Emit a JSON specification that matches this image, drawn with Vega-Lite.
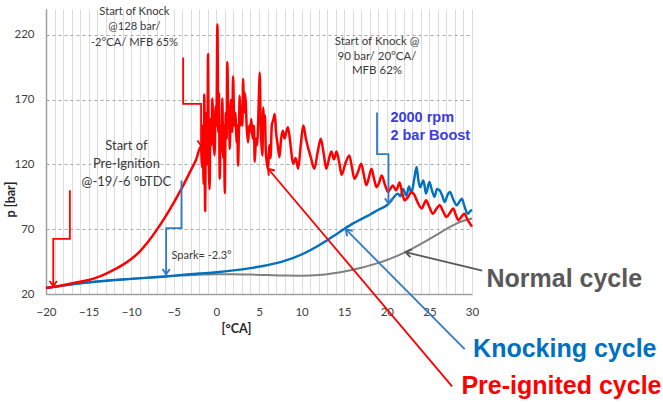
{
  "$schema": "https://vega.github.io/schema/vega-lite/v6.json",
  "width": 426,
  "height": 285,
  "autosize": {"type": "none"},
  "padding": {"left": 46, "top": 9, "right": 191, "bottom": 108},
  "background": "white",
  "config": {"view": {"stroke": null}, "font": "Lato"},
  "datasets": {
    "cycles": [
      {"cycle": "Normal", "ca": -20, "p": 24.6}, {"cycle": "Normal", "ca": -18, "p": 26.5}, {"cycle": "Normal", "ca": -16, "p": 28.2},
      {"cycle": "Normal", "ca": -14, "p": 29.6}, {"cycle": "Normal", "ca": -12, "p": 30.8}, {"cycle": "Normal", "ca": -10, "p": 31.7},
      {"cycle": "Normal", "ca": -8, "p": 32.6}, {"cycle": "Normal", "ca": -6, "p": 33.5}, {"cycle": "Normal", "ca": -4, "p": 34.3},
      {"cycle": "Normal", "ca": -2, "p": 34.9}, {"cycle": "Normal", "ca": 0, "p": 35.3}, {"cycle": "Normal", "ca": 2, "p": 35.3},
      {"cycle": "Normal", "ca": 4, "p": 35}, {"cycle": "Normal", "ca": 6, "p": 34.6}, {"cycle": "Normal", "ca": 8, "p": 34.2},
      {"cycle": "Normal", "ca": 10, "p": 34.1}, {"cycle": "Normal", "ca": 12, "p": 34.6}, {"cycle": "Normal", "ca": 13, "p": 35.3},
      {"cycle": "Normal", "ca": 14, "p": 36.2}, {"cycle": "Normal", "ca": 15, "p": 37.3}, {"cycle": "Normal", "ca": 16, "p": 38.7},
      {"cycle": "Normal", "ca": 17, "p": 40.3}, {"cycle": "Normal", "ca": 18, "p": 42.1}, {"cycle": "Normal", "ca": 19, "p": 44},
      {"cycle": "Normal", "ca": 20, "p": 46.2}, {"cycle": "Normal", "ca": 21, "p": 48.8}, {"cycle": "Normal", "ca": 22, "p": 51.8},
      {"cycle": "Normal", "ca": 23, "p": 55}, {"cycle": "Normal", "ca": 24, "p": 58.6}, {"cycle": "Normal", "ca": 25, "p": 62.4},
      {"cycle": "Normal", "ca": 26, "p": 66.3}, {"cycle": "Normal", "ca": 27, "p": 70.2}, {"cycle": "Normal", "ca": 28, "p": 73.8},
      {"cycle": "Normal", "ca": 29, "p": 76.5}, {"cycle": "Normal", "ca": 30, "p": 78.3},

      {"cycle": "Knocking", "ca": -20, "p": 24.6}, {"cycle": "Knocking", "ca": -18, "p": 26.5}, {"cycle": "Knocking", "ca": -16, "p": 28.2},
      {"cycle": "Knocking", "ca": -14, "p": 29.6}, {"cycle": "Knocking", "ca": -12, "p": 30.8}, {"cycle": "Knocking", "ca": -10, "p": 31.7},
      {"cycle": "Knocking", "ca": -8, "p": 32.6}, {"cycle": "Knocking", "ca": -6, "p": 33.5}, {"cycle": "Knocking", "ca": -4, "p": 34.8},
      {"cycle": "Knocking", "ca": -2, "p": 35.8}, {"cycle": "Knocking", "ca": 0, "p": 36.8}, {"cycle": "Knocking", "ca": 2, "p": 38.2},
      {"cycle": "Knocking", "ca": 4, "p": 40}, {"cycle": "Knocking", "ca": 6, "p": 42.3}, {"cycle": "Knocking", "ca": 8, "p": 45.5},
      {"cycle": "Knocking", "ca": 10, "p": 50.5}, {"cycle": "Knocking", "ca": 11, "p": 53.8}, {"cycle": "Knocking", "ca": 12, "p": 57.5},
      {"cycle": "Knocking", "ca": 13, "p": 61.5}, {"cycle": "Knocking", "ca": 14, "p": 65.8}, {"cycle": "Knocking", "ca": 15, "p": 70.2},
      {"cycle": "Knocking", "ca": 16, "p": 74.3}, {"cycle": "Knocking", "ca": 17, "p": 77.8}, {"cycle": "Knocking", "ca": 18, "p": 81.2},
      {"cycle": "Knocking", "ca": 19, "p": 85}, {"cycle": "Knocking", "ca": 20, "p": 88.5}, {"cycle": "Knocking", "ca": 20.4, "p": 91},
      {"cycle": "Knocking", "ca": 20.8, "p": 94.5}, {"cycle": "Knocking", "ca": 21.3, "p": 97.5}, {"cycle": "Knocking", "ca": 21.6, "p": 95.5},
      {"cycle": "Knocking", "ca": 21.9, "p": 101}, {"cycle": "Knocking", "ca": 22.3, "p": 96}, {"cycle": "Knocking", "ca": 22.6, "p": 103},
      {"cycle": "Knocking", "ca": 22.9, "p": 98}, {"cycle": "Knocking", "ca": 23.2, "p": 108}, {"cycle": "Knocking", "ca": 23.5, "p": 118},
      {"cycle": "Knocking", "ca": 23.7, "p": 108}, {"cycle": "Knocking", "ca": 23.9, "p": 102.5}, {"cycle": "Knocking", "ca": 24.3, "p": 107.7},
      {"cycle": "Knocking", "ca": 24.6, "p": 97.5}, {"cycle": "Knocking", "ca": 25.0, "p": 106.4}, {"cycle": "Knocking", "ca": 25.3, "p": 100},
      {"cycle": "Knocking", "ca": 25.6, "p": 95}, {"cycle": "Knocking", "ca": 25.9, "p": 101}, {"cycle": "Knocking", "ca": 26.2, "p": 100},
      {"cycle": "Knocking", "ca": 26.5, "p": 96}, {"cycle": "Knocking", "ca": 26.8, "p": 91}, {"cycle": "Knocking", "ca": 27.1, "p": 96},
      {"cycle": "Knocking", "ca": 27.4, "p": 98.7}, {"cycle": "Knocking", "ca": 27.8, "p": 93}, {"cycle": "Knocking", "ca": 28.2, "p": 88.5},
      {"cycle": "Knocking", "ca": 28.5, "p": 91}, {"cycle": "Knocking", "ca": 28.8, "p": 93.6}, {"cycle": "Knocking", "ca": 29.1, "p": 88},
      {"cycle": "Knocking", "ca": 29.5, "p": 82}, {"cycle": "Knocking", "ca": 29.8, "p": 84}, {"cycle": "Knocking", "ca": 30, "p": 85},

      {"cycle": "Pre-ignited", "ca": -20, "p": 24.6}, {"cycle": "Pre-ignited", "ca": -19, "p": 25.6}, {"cycle": "Pre-ignited", "ca": -18, "p": 26.8},
      {"cycle": "Pre-ignited", "ca": -17, "p": 28.2}, {"cycle": "Pre-ignited", "ca": -16, "p": 29.5}, {"cycle": "Pre-ignited", "ca": -15, "p": 30.8},
      {"cycle": "Pre-ignited", "ca": -14, "p": 32.8}, {"cycle": "Pre-ignited", "ca": -13, "p": 35.5}, {"cycle": "Pre-ignited", "ca": -12, "p": 38.8},
      {"cycle": "Pre-ignited", "ca": -11, "p": 42.5}, {"cycle": "Pre-ignited", "ca": -10, "p": 47}, {"cycle": "Pre-ignited", "ca": -9, "p": 52.8},
      {"cycle": "Pre-ignited", "ca": -8, "p": 60.5}, {"cycle": "Pre-ignited", "ca": -7, "p": 69.5}, {"cycle": "Pre-ignited", "ca": -6, "p": 79.5},
      {"cycle": "Pre-ignited", "ca": -5, "p": 90.5}, {"cycle": "Pre-ignited", "ca": -4, "p": 102.5}, {"cycle": "Pre-ignited", "ca": -3, "p": 115.5},
      {"cycle": "Pre-ignited", "ca": -2.4, "p": 123.5}, {"cycle": "Pre-ignited", "ca": -1.8, "p": 134}, {"cycle": "Pre-ignited", "ca": -1.7, "p": 118},
      {"cycle": "Pre-ignited", "ca": -1.6, "p": 150}, {"cycle": "Pre-ignited", "ca": -1.5, "p": 105}, {"cycle": "Pre-ignited", "ca": -1.42, "p": 174},
      {"cycle": "Pre-ignited", "ca": -1.32, "p": 84}, {"cycle": "Pre-ignited", "ca": -1.25, "p": 140}, {"cycle": "Pre-ignited", "ca": -1.15, "p": 160},
      {"cycle": "Pre-ignited", "ca": -1.06, "p": 120}, {"cycle": "Pre-ignited", "ca": -0.98, "p": 205}, {"cycle": "Pre-ignited", "ca": -0.9, "p": 130},
      {"cycle": "Pre-ignited", "ca": -0.8, "p": 101}, {"cycle": "Pre-ignited", "ca": -0.7, "p": 155}, {"cycle": "Pre-ignited", "ca": -0.6, "p": 135},
      {"cycle": "Pre-ignited", "ca": -0.48, "p": 171}, {"cycle": "Pre-ignited", "ca": -0.36, "p": 140}, {"cycle": "Pre-ignited", "ca": -0.22, "p": 127},
      {"cycle": "Pre-ignited", "ca": -0.1, "p": 165}, {"cycle": "Pre-ignited", "ca": 0.0, "p": 150}, {"cycle": "Pre-ignited", "ca": 0.12, "p": 228},
      {"cycle": "Pre-ignited", "ca": 0.22, "p": 145}, {"cycle": "Pre-ignited", "ca": 0.3, "p": 175}, {"cycle": "Pre-ignited", "ca": 0.39, "p": 109},
      {"cycle": "Pre-ignited", "ca": 0.5, "p": 150}, {"cycle": "Pre-ignited", "ca": 0.6, "p": 130}, {"cycle": "Pre-ignited", "ca": 0.7, "p": 171},
      {"cycle": "Pre-ignited", "ca": 0.8, "p": 125}, {"cycle": "Pre-ignited", "ca": 0.9, "p": 150}, {"cycle": "Pre-ignited", "ca": 0.98, "p": 98},
      {"cycle": "Pre-ignited", "ca": 1.1, "p": 160}, {"cycle": "Pre-ignited", "ca": 1.2, "p": 140}, {"cycle": "Pre-ignited", "ca": 1.29, "p": 199},
      {"cycle": "Pre-ignited", "ca": 1.4, "p": 150}, {"cycle": "Pre-ignited", "ca": 1.48, "p": 165}, {"cycle": "Pre-ignited", "ca": 1.56, "p": 132},
      {"cycle": "Pre-ignited", "ca": 1.7, "p": 170}, {"cycle": "Pre-ignited", "ca": 1.85, "p": 145}, {"cycle": "Pre-ignited", "ca": 1.96, "p": 188},
      {"cycle": "Pre-ignited", "ca": 2.1, "p": 150}, {"cycle": "Pre-ignited", "ca": 2.25, "p": 160}, {"cycle": "Pre-ignited", "ca": 2.35, "p": 137},
      {"cycle": "Pre-ignited", "ca": 2.45, "p": 150}, {"cycle": "Pre-ignited", "ca": 2.54, "p": 119}, {"cycle": "Pre-ignited", "ca": 2.64, "p": 145},
      {"cycle": "Pre-ignited", "ca": 2.74, "p": 173}, {"cycle": "Pre-ignited", "ca": 2.85, "p": 150}, {"cycle": "Pre-ignited", "ca": 2.95, "p": 165},
      {"cycle": "Pre-ignited", "ca": 3.05, "p": 150}, {"cycle": "Pre-ignited", "ca": 3.13, "p": 186}, {"cycle": "Pre-ignited", "ca": 3.25, "p": 160},
      {"cycle": "Pre-ignited", "ca": 3.35, "p": 175}, {"cycle": "Pre-ignited", "ca": 3.44, "p": 168}, {"cycle": "Pre-ignited", "ca": 3.55, "p": 150},
      {"cycle": "Pre-ignited", "ca": 3.72, "p": 137}, {"cycle": "Pre-ignited", "ca": 3.85, "p": 150}, {"cycle": "Pre-ignited", "ca": 3.95, "p": 145},
      {"cycle": "Pre-ignited", "ca": 4.1, "p": 155}, {"cycle": "Pre-ignited", "ca": 4.25, "p": 140}, {"cycle": "Pre-ignited", "ca": 4.4, "p": 150},
      {"cycle": "Pre-ignited", "ca": 4.5, "p": 122}, {"cycle": "Pre-ignited", "ca": 4.65, "p": 140}, {"cycle": "Pre-ignited", "ca": 4.8, "p": 135},
      {"cycle": "Pre-ignited", "ca": 4.89, "p": 150}, {"cycle": "Pre-ignited", "ca": 5.0, "p": 175}, {"cycle": "Pre-ignited", "ca": 5.08, "p": 191},
      {"cycle": "Pre-ignited", "ca": 5.2, "p": 150}, {"cycle": "Pre-ignited", "ca": 5.3, "p": 135}, {"cycle": "Pre-ignited", "ca": 5.4, "p": 127},
      {"cycle": "Pre-ignited", "ca": 5.5, "p": 164}, {"cycle": "Pre-ignited", "ca": 5.6, "p": 150}, {"cycle": "Pre-ignited", "ca": 5.7, "p": 158},
      {"cycle": "Pre-ignited", "ca": 5.8, "p": 130}, {"cycle": "Pre-ignited", "ca": 5.95, "p": 120}, {"cycle": "Pre-ignited", "ca": 6.07, "p": 116.7},
      {"cycle": "Pre-ignited", "ca": 6.2, "p": 135}, {"cycle": "Pre-ignited", "ca": 6.35, "p": 125}, {"cycle": "Pre-ignited", "ca": 6.5, "p": 150},
      {"cycle": "Pre-ignited", "ca": 6.7, "p": 155}, {"cycle": "Pre-ignited", "ca": 6.85, "p": 159}, {"cycle": "Pre-ignited", "ca": 7.0, "p": 145},
      {"cycle": "Pre-ignited", "ca": 7.2, "p": 135}, {"cycle": "Pre-ignited", "ca": 7.4, "p": 125.6}, {"cycle": "Pre-ignited", "ca": 7.6, "p": 140},
      {"cycle": "Pre-ignited", "ca": 7.8, "p": 146}, {"cycle": "Pre-ignited", "ca": 8.0, "p": 140}, {"cycle": "Pre-ignited", "ca": 8.2, "p": 145},
      {"cycle": "Pre-ignited", "ca": 8.4, "p": 148.7}, {"cycle": "Pre-ignited", "ca": 8.7, "p": 135}, {"cycle": "Pre-ignited", "ca": 9.0, "p": 120.5},
      {"cycle": "Pre-ignited", "ca": 9.3, "p": 125}, {"cycle": "Pre-ignited", "ca": 9.6, "p": 116.7}, {"cycle": "Pre-ignited", "ca": 9.9, "p": 135},
      {"cycle": "Pre-ignited", "ca": 10.2, "p": 150}, {"cycle": "Pre-ignited", "ca": 10.5, "p": 140}, {"cycle": "Pre-ignited", "ca": 10.76, "p": 133},
      {"cycle": "Pre-ignited", "ca": 11.1, "p": 125}, {"cycle": "Pre-ignited", "ca": 11.5, "p": 116.7}, {"cycle": "Pre-ignited", "ca": 11.9, "p": 130},
      {"cycle": "Pre-ignited", "ca": 12.25, "p": 139.8}, {"cycle": "Pre-ignited", "ca": 12.6, "p": 128}, {"cycle": "Pre-ignited", "ca": 12.9, "p": 116.7},
      {"cycle": "Pre-ignited", "ca": 13.2, "p": 124}, {"cycle": "Pre-ignited", "ca": 13.5, "p": 130}, {"cycle": "Pre-ignited", "ca": 13.8, "p": 124},
      {"cycle": "Pre-ignited", "ca": 14.1, "p": 130}, {"cycle": "Pre-ignited", "ca": 14.4, "p": 122}, {"cycle": "Pre-ignited", "ca": 14.7, "p": 112},
      {"cycle": "Pre-ignited", "ca": 15.1, "p": 120}, {"cycle": "Pre-ignited", "ca": 15.6, "p": 127}, {"cycle": "Pre-ignited", "ca": 15.9, "p": 118},
      {"cycle": "Pre-ignited", "ca": 16.2, "p": 109}, {"cycle": "Pre-ignited", "ca": 16.6, "p": 114}, {"cycle": "Pre-ignited", "ca": 17.0, "p": 120.5},
      {"cycle": "Pre-ignited", "ca": 17.3, "p": 112}, {"cycle": "Pre-ignited", "ca": 17.6, "p": 104}, {"cycle": "Pre-ignited", "ca": 17.9, "p": 110},
      {"cycle": "Pre-ignited", "ca": 18.2, "p": 116.7}, {"cycle": "Pre-ignited", "ca": 18.5, "p": 109}, {"cycle": "Pre-ignited", "ca": 18.8, "p": 102.5},
      {"cycle": "Pre-ignited", "ca": 19.1, "p": 106}, {"cycle": "Pre-ignited", "ca": 19.4, "p": 111.5}, {"cycle": "Pre-ignited", "ca": 19.8, "p": 104},
      {"cycle": "Pre-ignited", "ca": 20.15, "p": 98.7}, {"cycle": "Pre-ignited", "ca": 20.4, "p": 101}, {"cycle": "Pre-ignited", "ca": 20.7, "p": 103.8},
      {"cycle": "Pre-ignited", "ca": 21.1, "p": 100}, {"cycle": "Pre-ignited", "ca": 21.5, "p": 106}, {"cycle": "Pre-ignited", "ca": 21.8, "p": 98},
      {"cycle": "Pre-ignited", "ca": 22.1, "p": 92.3}, {"cycle": "Pre-ignited", "ca": 22.5, "p": 95}, {"cycle": "Pre-ignited", "ca": 22.9, "p": 98.7},
      {"cycle": "Pre-ignited", "ca": 23.2, "p": 97}, {"cycle": "Pre-ignited", "ca": 23.6, "p": 91}, {"cycle": "Pre-ignited", "ca": 24.1, "p": 86},
      {"cycle": "Pre-ignited", "ca": 24.4, "p": 90}, {"cycle": "Pre-ignited", "ca": 24.6, "p": 92.3}, {"cycle": "Pre-ignited", "ca": 25.0, "p": 87},
      {"cycle": "Pre-ignited", "ca": 25.4, "p": 82}, {"cycle": "Pre-ignited", "ca": 25.8, "p": 85.5}, {"cycle": "Pre-ignited", "ca": 26.2, "p": 88.5},
      {"cycle": "Pre-ignited", "ca": 26.6, "p": 84}, {"cycle": "Pre-ignited", "ca": 27.0, "p": 79.5}, {"cycle": "Pre-ignited", "ca": 27.4, "p": 82.5},
      {"cycle": "Pre-ignited", "ca": 27.8, "p": 86}, {"cycle": "Pre-ignited", "ca": 28.1, "p": 81}, {"cycle": "Pre-ignited", "ca": 28.4, "p": 77},
      {"cycle": "Pre-ignited", "ca": 28.8, "p": 80}, {"cycle": "Pre-ignited", "ca": 29.1, "p": 82}, {"cycle": "Pre-ignited", "ca": 29.5, "p": 77},
      {"cycle": "Pre-ignited", "ca": 30.0, "p": 72}
    ],
    "pointers": [
      {"name": "pre-ignition start", "cycle": "Pre-ignited", "seq": 1, "ca": -17.2, "p": 100},
      {"name": "pre-ignition start", "cycle": "Pre-ignited", "seq": 2, "ca": -17.2, "p": 62.5},
      {"name": "pre-ignition start", "cycle": "Pre-ignited", "seq": 3, "ca": -19.15, "p": 62.5},
      {"name": "pre-ignition start", "cycle": "Pre-ignited", "seq": 4, "ca": -19.15, "p": 26, "tip": "down"},
      {"name": "spark", "cycle": "Knocking", "seq": 1, "ca": -4.1, "p": 107.7},
      {"name": "spark", "cycle": "Knocking", "seq": 2, "ca": -4.1, "p": 70.8},
      {"name": "spark", "cycle": "Knocking", "seq": 3, "ca": -5.9, "p": 70.8},
      {"name": "spark", "cycle": "Knocking", "seq": 4, "ca": -5.9, "p": 35.2, "tip": "down"},
      {"name": "knock start pre-ignited", "cycle": "Pre-ignited", "seq": 1, "ca": -3.9, "p": 202.5},
      {"name": "knock start pre-ignited", "cycle": "Pre-ignited", "seq": 2, "ca": -3.9, "p": 166.8},
      {"name": "knock start pre-ignited", "cycle": "Pre-ignited", "seq": 3, "ca": -1.8, "p": 166.8},
      {"name": "knock start pre-ignited", "cycle": "Pre-ignited", "seq": 4, "ca": -1.8, "p": 134.5, "tip": "down"},
      {"name": "knock start knocking", "cycle": "Knocking", "seq": 1, "ca": 18.85, "p": 160.2},
      {"name": "knock start knocking", "cycle": "Knocking", "seq": 2, "ca": 18.85, "p": 128},
      {"name": "knock start knocking", "cycle": "Knocking", "seq": 3, "ca": 20.2, "p": 128},
      {"name": "knock start knocking", "cycle": "Knocking", "seq": 4, "ca": 20.2, "p": 89.8, "tip": "down"},
      {"name": "normal label", "cycle": "Normal", "seq": 1, "ca": 31.2, "p": 38},
      {"name": "normal label", "cycle": "Normal", "seq": 2, "ca": 22.2, "p": 52.3, "tip": "normal"},
      {"name": "knocking label", "cycle": "Knocking", "seq": 1, "ca": 29.14, "p": -22.5},
      {"name": "knocking label", "cycle": "Knocking", "seq": 2, "ca": 15.2, "p": 69.8, "tip": "knocking"},
      {"name": "pre-ignited label", "cycle": "Pre-ignited", "seq": 1, "ca": 27.66, "p": -51.3},
      {"name": "pre-ignited label", "cycle": "Pre-ignited", "seq": 2, "ca": 6.07, "p": 116.7, "tip": "preignited"}
    ],
    "notes": [
      {"note": "knock1", "ca": -9.62, "p": 237.7, "text": "Start of Knock\n@128 bar/\n-2°CA/ MFB 65%"},
      {"note": "knock2", "ca": 18.85, "p": 214.5, "text": "Start of Knock @\n90 bar/ 20°CA/\nMFB  62%"},
      {"note": "preig", "ca": -10.56, "p": 134.2, "text": "Start of\nPre-Ignition\n@-19/-6 °bTDC"},
      {"note": "spark", "ca": -5.28, "p": 49.2, "text": "Spark= -2.3°"},
      {"note": "boost", "ca": 20.42, "p": 155.9, "text": "2000 rpm\n2 bar Boost"},
      {"note": "Normal", "ca": 31.7, "p": 31.5, "text": "Normal cycle"},
      {"note": "Knocking", "ca": 30.13, "p": -22.5, "text": "Knocking cycle"},
      {"note": "Pre-ignited", "ca": 28.76, "p": -51.3, "text": "Pre-ignited cycle"}
    ]
  },
  "encoding": {
    "x": {
      "field": "ca", "type": "quantitative",
      "scale": {"domain": [-20, 30], "nice": false, "zero": false},
      "axis": {
        "title": "[°CA]",
        "values": [-20,-19,-18,-17,-16,-15,-14,-13,-12,-11,-10,-9,-8,-7,-6,-5,-4,-3,-2,-1,0,1,2,3,4,5,6,7,8,9,10,11,12,13,14,15,16,17,18,19,20,21,22,23,24,25,26,27,28,29,30],
        "labelExpr": "datum.value % 5 === 0 ? datum.label : ''",
        "labelOverlap": false, "labelFlush": false,
        "ticks": false, "labelPadding": 12,
        "labelFont": "Lato", "labelFontSize": 11.5, "labelColor": "#404040",
        "domainColor": "#a0a0a0", "domainWidth": 1.5,
        "grid": true,
        "encode": {"grid": {"update": {
          "stroke": {"signal": "datum.value === 0 ? '#a8a8a8' : (datum.value % 5 === 0 ? '#bcbcbc' : '#c4c4c4')"},
          "strokeWidth": {"signal": "datum.value === 0 ? 2.6 : (datum.value % 5 === 0 ? 1.4 : 0.9)"},
          "strokeDash": {"signal": "datum.value % 5 === 0 ? [] : [1, 2]"}
        }}},
        "titleFont": "Lato", "titleFontSize": 12.5, "titleFontWeight": "bold", "titleColor": "#262626",
        "titleX": 190, "titleY": 28
      }
    },
    "y": {
      "field": "p", "type": "quantitative",
      "scale": {"domain": [20, 240], "nice": false, "zero": false},
      "axis": {
        "title": "p [bar]",
        "values": [20, 70, 120, 170, 220],
        "ticks": false, "labelPadding": 12,
        "labelFont": "Lato", "labelFontSize": 11.5, "labelColor": "#404040",
        "domainColor": "#a0a0a0", "domainWidth": 1.5,
        "grid": true, "gridColor": "#a8a8a8", "gridDash": [3, 3], "gridWidth": 1,
        "titleFont": "Lato", "titleFontSize": 12.5, "titleFontWeight": "bold", "titleColor": "#262626",
        "titleX": -29, "titleY": 190
      }
    }
  },
  "layer": [
    {
      "data": {"name": "cycles"},
      "transform": [{"filter": "datum.cycle === 'Normal'"}],
      "mark": {"type": "line", "color": "#808080", "strokeWidth": 2, "interpolate": "monotone"},
      "encoding": {}
    },
    {
      "data": {"name": "cycles"},
      "transform": [{"filter": "datum.cycle === 'Knocking'"}],
      "mark": {"type": "line", "color": "#0070c0", "strokeWidth": 2.4, "strokeJoin": "round", "interpolate": "monotone"},
      "encoding": {}
    },
    {
      "data": {"name": "cycles"},
      "transform": [{"filter": "datum.cycle === 'Pre-ignited'"}],
      "mark": {"type": "line", "color": "#ff0000", "strokeWidth": 2.5, "strokeJoin": "round", "interpolate": "monotone"},
      "encoding": {}
    },
    {
      "data": {"name": "pointers"},
      "mark": {"type": "line", "strokeWidth": 1.8},
      "encoding": {
        "detail": {"field": "name"},
        "order": {"field": "seq", "type": "quantitative"},
        "color": {"field": "cycle", "type": "nominal", "legend": null,
          "scale": {"domain": ["Normal", "Knocking", "Pre-ignited"], "range": ["#595959", "#2f7bc8", "#ff0000"]}}
      }
    },
    {
      "data": {"name": "pointers"},
      "transform": [{"filter": "datum.tip === 'down'"}],
      "mark": {"type": "point", "shape": "M-0.7,1L0,0L0.7,1", "filled": false, "size": 110, "strokeWidth": 1.8, "angle": 180, "opacity": 1},
      "encoding": {"color": {"field": "cycle", "type": "nominal", "legend": null}}
    },
    {
      "data": {"name": "pointers"},
      "transform": [{"filter": "datum.tip === 'normal'"}],
      "mark": {"type": "point", "shape": "M-0.7,1L0,0L0.7,1", "filled": false, "size": 130, "strokeWidth": 2, "angle": 281, "opacity": 1},
      "encoding": {"color": {"field": "cycle", "type": "nominal", "legend": null}}
    },
    {
      "data": {"name": "pointers"},
      "transform": [{"filter": "datum.tip === 'knocking'"}],
      "mark": {"type": "point", "shape": "M-0.7,1L0,0L0.7,1", "filled": false, "size": 130, "strokeWidth": 2, "angle": 315, "opacity": 1},
      "encoding": {"color": {"field": "cycle", "type": "nominal", "legend": null}}
    },
    {
      "data": {"name": "pointers"},
      "transform": [{"filter": "datum.tip === 'preignited'"}],
      "mark": {"type": "point", "shape": "M-0.7,1L0,0L0.7,1", "filled": false, "size": 130, "strokeWidth": 2, "angle": 320, "opacity": 1},
      "encoding": {"color": {"field": "cycle", "type": "nominal", "legend": null}}
    },
    {
      "data": {"name": "notes"},
      "transform": [{"filter": "datum.note === 'knock1'"}],
      "mark": {"type": "text", "align": "center", "baseline": "middle", "lineBreak": "\n", "font": "Lato", "fontSize": 11.2, "lineHeight": 15.5, "color": "#3a3a3a"},
      "encoding": {"text": {"field": "text"}}
    },
    {
      "data": {"name": "notes"},
      "transform": [{"filter": "datum.note === 'knock2'"}],
      "mark": {"type": "text", "align": "center", "baseline": "middle", "lineBreak": "\n", "font": "Lato", "fontSize": 11.5, "lineHeight": 14.5, "color": "#3a3a3a"},
      "encoding": {"text": {"field": "text"}}
    },
    {
      "data": {"name": "notes"},
      "transform": [{"filter": "datum.note === 'preig'"}],
      "mark": {"type": "text", "align": "center", "baseline": "middle", "lineBreak": "\n", "font": "Lato", "fontSize": 13, "lineHeight": 18, "color": "#3a3a3a"},
      "encoding": {"text": {"field": "text"}}
    },
    {
      "data": {"name": "notes"},
      "transform": [{"filter": "datum.note === 'spark'"}],
      "mark": {"type": "text", "align": "left", "baseline": "middle", "font": "Lato", "fontSize": 11, "color": "#3a3a3a"},
      "encoding": {"text": {"field": "text"}}
    },
    {
      "data": {"name": "notes"},
      "transform": [{"filter": "datum.note === 'boost'"}],
      "mark": {"type": "text", "align": "left", "baseline": "middle", "lineBreak": "\n", "font": "Liberation Sans", "fontWeight": "bold", "fontSize": 14.5, "lineHeight": 18, "color": "#3c3ce6"},
      "encoding": {"text": {"field": "text"}}
    },
    {
      "data": {"name": "notes"},
      "transform": [{"filter": "datum.note === 'Normal'"}],
      "mark": {"type": "text", "align": "left", "baseline": "middle", "font": "Liberation Sans", "fontWeight": "bold", "fontSize": 25, "color": "#595959"},
      "encoding": {"text": {"field": "text"}}
    },
    {
      "data": {"name": "notes"},
      "transform": [{"filter": "datum.note === 'Knocking'"}],
      "mark": {"type": "text", "align": "left", "baseline": "middle", "font": "Liberation Sans", "fontWeight": "bold", "fontSize": 25, "color": "#0070c0"},
      "encoding": {"text": {"field": "text"}}
    },
    {
      "data": {"name": "notes"},
      "transform": [{"filter": "datum.note === 'Pre-ignited'"}],
      "mark": {"type": "text", "align": "left", "baseline": "middle", "font": "Liberation Sans", "fontWeight": "bold", "fontSize": 25, "color": "#ff0000"},
      "encoding": {"text": {"field": "text"}}
    }
  ]
}
